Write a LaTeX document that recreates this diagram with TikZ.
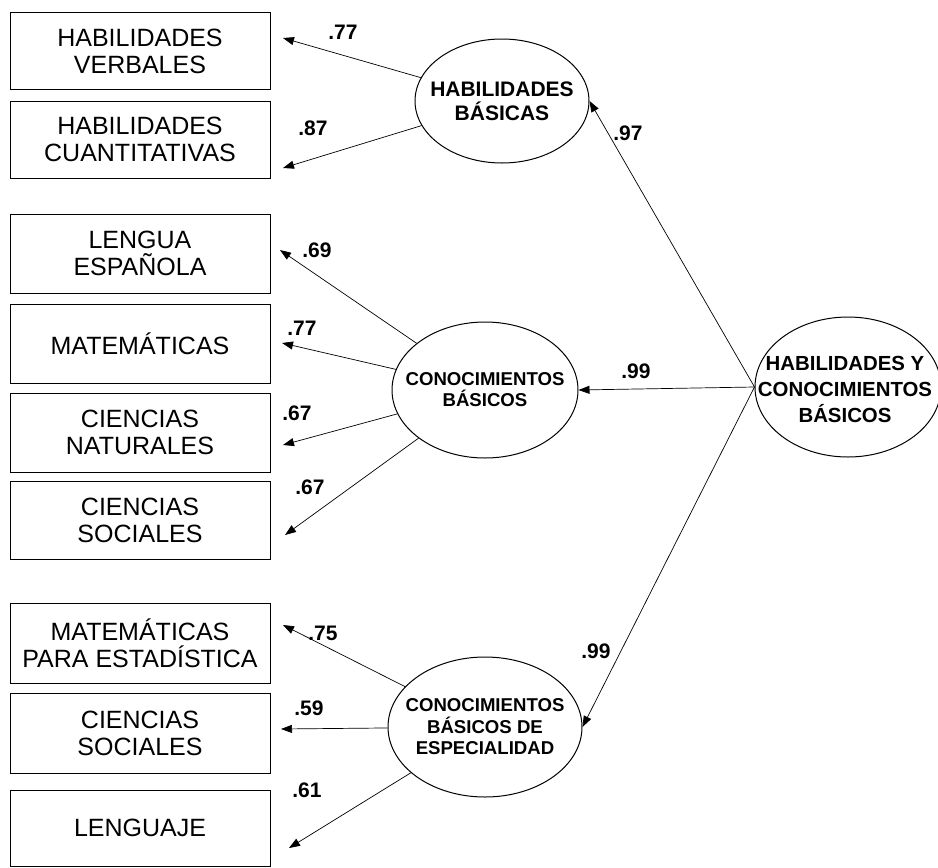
\documentclass[tikz,border=0pt]{standalone}
\usepackage{fontspec}
\setmainfont{Liberation Sans}
\usetikzlibrary{arrows.meta,shapes.geometric}
\begin{document}
\begin{tikzpicture}[x=1pt,y=-1pt,
  obsbox/.style={draw,line width=1pt,minimum width=260pt,inner sep=0pt,
    align=center,font=\fontsize{25}{27}\selectfont},
  latent/.style={draw,line width=1pt,ellipse,inner sep=0pt},
  ltext/.style={align=center,inner sep=0pt},
  load/.style={line width=0.7pt,-{Triangle[length=11pt,width=8pt]}},
  coef/.style={font=\bfseries\fontsize{21}{21}\selectfont,inner sep=0pt}
]
\useasboundingbox (0,0) rectangle (938,868);

% observed indicators
\node[obsbox,minimum height=77pt] (b1) at (140,51)    {HABILIDADES\\VERBALES};
\node[obsbox,minimum height=77pt] (b2) at (140,139.5) {HABILIDADES\\CUANTITATIVAS};
\node[obsbox,minimum height=79pt] (b3) at (140,253.5) {LENGUA\\ESPAÑOLA};
\node[obsbox,minimum height=79pt] (b4) at (140,343.5) {MATEMÁTICAS};
\node[obsbox,minimum height=79pt] (b5) at (140,432.5) {CIENCIAS\\NATURALES};
\node[obsbox,minimum height=78pt] (b6) at (140,520)   {CIENCIAS\\SOCIALES};
\node[obsbox,minimum height=80pt] (b7) at (140,643)   {MATEMÁTICAS\\PARA ESTADÍSTICA};
\node[obsbox,minimum height=80pt] (b8) at (140,733)   {CIENCIAS\\SOCIALES};
\node[obsbox,minimum height=76pt] (b9) at (140,828)   {LENGUAJE};

% latent factors
\node[latent,minimum width=174pt,minimum height=124pt] (HB)  at (502,101) {};
\node[latent,minimum width=186pt,minimum height=136pt] (CB)  at (485,390) {};
\node[latent,minimum width=186pt,minimum height=140pt] (HYC) at (848,387) {};
\node[latent,minimum width=194pt,minimum height=140pt] (CBE) at (485,727) {};

\node[ltext,font=\bfseries\fontsize{21}{24}\selectfont] (tHB) at (HB) {HABILIDADES\\BÁSICAS};
\node[ltext,font=\bfseries\fontsize{18.6}{21}\selectfont] (tCB) at (CB) {CONOCIMIENTOS\\BÁSICOS};
\node[ltext,font=\bfseries\fontsize{20.4}{26}\selectfont] (tHYC) at (845,389) {HABILIDADES Y\\CONOCIMIENTOS\\BÁSICOS};
\node[ltext,font=\bfseries\fontsize{18.6}{21.5}\selectfont] (tCBE) at (CBE) {CONOCIMIENTOS\\BÁSICOS DE\\ESPECIALIDAD};

% arrow tips beside the indicator boxes
\coordinate (a1) at (283,38);
\coordinate (a2) at (283,168);
\coordinate (a3) at (280,250);
\coordinate (a4) at (282,343);
\coordinate (a5) at (283,445);
\coordinate (a6) at (285,535);
\coordinate (a7) at (283,625);
\coordinate (a8) at (281,729);
\coordinate (a9) at (289,848);

% second-order paths
\draw[load] (HYC.west) -- (HB.east);
\draw[load] (HYC.west) -- (CB.east);
\draw[load] (HYC.west) -- (CBE.east);

% first-order loadings
\draw[load] (HB) -- (a1);
\draw[load] (HB) -- (a2);
\draw[load] (CB) -- (a3);
\draw[load] (CB) -- (a4);
\draw[load] (CB) -- (a5);
\draw[load] (CB) -- (a6);
\draw[load] (CBE) -- (a7);
\draw[load] (CBE) -- (a8);
\draw[load] (CBE) -- (a9);

% standardized coefficients
\node[coef] (c1) at (343,32)  {.77};
\node[coef] (c2) at (313,128) {.87};
\node[coef] (c3) at (317,250) {.69};
\node[coef] (c4) at (302,328) {.77};
\node[coef] (c5) at (297,413) {.67};
\node[coef] (c6) at (310,487) {.67};
\node[coef] (c7) at (323,633) {.75};
\node[coef] (c8) at (309,708) {.59};
\node[coef] (c9) at (307,790) {.61};
\node[coef] (c10) at (628,133) {.97};
\node[coef] (c11) at (636,371) {.99};
\node[coef] (c12) at (596,651) {.99};
\end{tikzpicture}
\end{document}
